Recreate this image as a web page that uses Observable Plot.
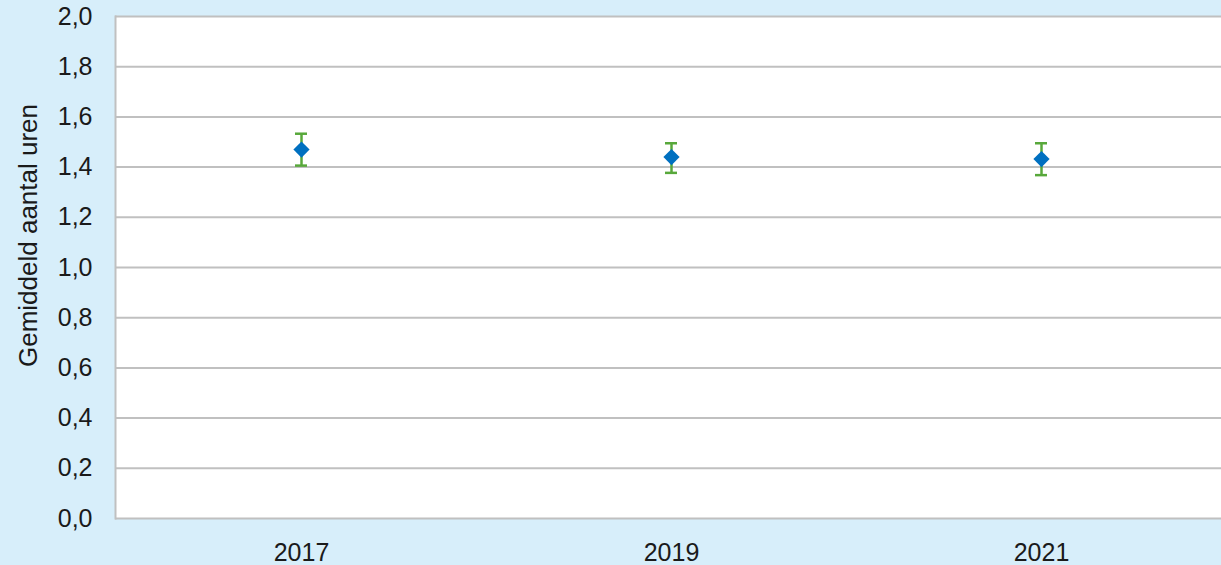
<!DOCTYPE html>
<html>
<head>
<meta charset="utf-8">
<script src="https://cdn.jsdelivr.net/npm/d3@7"></script>
<script src="https://cdn.jsdelivr.net/npm/@observablehq/plot@0.6"></script>
<style>
  html, body { margin: 0; padding: 0; background: #d7eefa; }
  #chart svg { display: block; }
</style>
</head>
<body>
<div id="chart"></div>
<script>
const years = ["2017", "2019", "2021"];
const means = [1.47, 1.44, 1.432];
const lower = [1.406, 1.377, 1.368];
const upper = [1.533, 1.495, 1.495];
const yTicks = [0, 0.2, 0.4, 0.6, 0.8, 1.0, 1.2, 1.4, 1.6, 1.8, 2.0];
const yTitle = "Gemiddeld aantal uren";

const data = years.map((y, i) => ({year: y, mean: means[i], lo: lower[i], hi: upper[i]}));
const fmt = d => d.toFixed(1).replace(".", ",");

const chart = Plot.plot({
  width: 1221,
  height: 565,
  marginLeft: 115,
  marginRight: 0,
  marginTop: 16,
  marginBottom: 47,
  style: {background: "#d7eefa", fontFamily: "'Liberation Sans', Arial, sans-serif", color: "#1a1a1a"},
  x: {domain: years, range: [115, 1227], padding: 0},
  y: {domain: [0, 2], ticks: yTicks},
  marks: [
    Plot.frame({fill: "white", stroke: null}),
    Plot.ruleY(yTicks, {stroke: "#c0c0c0", strokeWidth: 2}),
    Plot.frame({anchor: "left", stroke: "#c0c0c0", strokeWidth: 2}),
    Plot.axisY(yTicks, {tickSize: 0, tickPadding: 23, tickFormat: fmt, fontSize: 25, label: null}),
    Plot.axisX({tickSize: 0, tickPadding: 25, fontSize: 25, label: null}),
    Plot.text([yTitle], {frameAnchor: "left", textAnchor: "middle", dx: -87, dy: -32, rotate: -90, fontSize: 26, fill: "#1a1a1a"}),
    Plot.ruleX(data, {x: "year", y1: "lo", y2: "hi", stroke: "#58a83b", strokeWidth: 2.5}),
    Plot.tickY(data, {x: "year", y: "lo", stroke: "#58a83b", strokeWidth: 2.5, insetLeft: 179, insetRight: 179}),
    Plot.tickY(data, {x: "year", y: "hi", stroke: "#58a83b", strokeWidth: 2.5, insetLeft: 179, insetRight: 179}),
    Plot.dot(data, {x: "year", y: "mean", symbol: "diamond2", r: 7.3, fill: "#0070c0", stroke: null})
  ]
});
document.getElementById("chart").appendChild(chart);
</script>
</body>
</html>
